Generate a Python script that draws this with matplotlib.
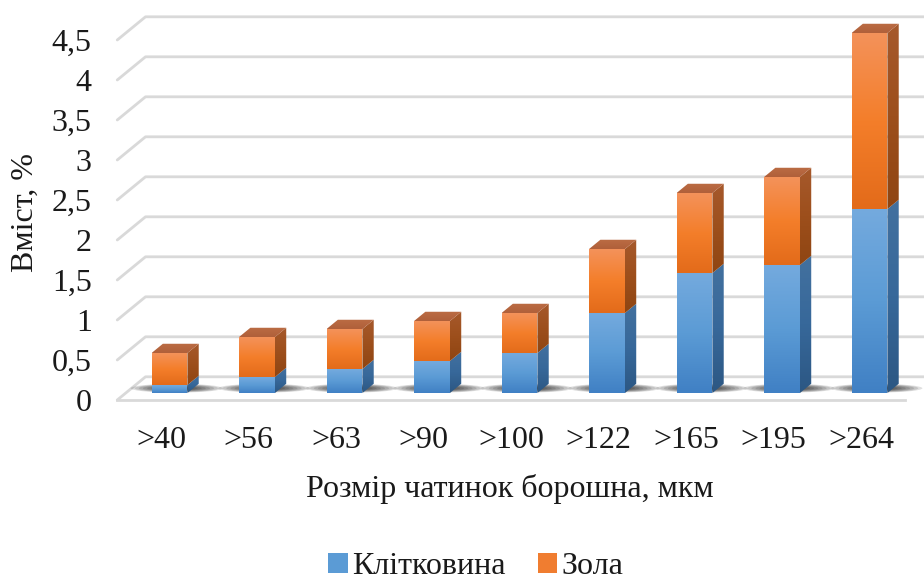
import numpy as np
import matplotlib
matplotlib.use("Agg")
import matplotlib.pyplot as plt
from matplotlib.patches import Polygon, Ellipse, Patch
from matplotlib.colors import LinearSegmentedColormap

# ---- data ----
categories = [">40", ">56", ">63", ">90", ">100", ">122", ">165", ">195", ">264"]
fiber = [0.1, 0.2, 0.3, 0.4, 0.5, 1.0, 1.5, 1.6, 2.3]
ash = [0.4, 0.5, 0.5, 0.5, 0.5, 0.8, 1.0, 1.1, 2.2]
series_names = ["Клітковина", "Зола"]
y_ticks = [0, 0.5, 1, 1.5, 2, 2.5, 3, 3.5, 4, 4.5]
y_tick_labels = ["0", "0,5", "1", "1,5", "2", "2,5", "3", "3,5", "4", "4,5"]
x_title = "Розмір чатинок борошна, мкм"
y_title = "Вміст, %"

plt.rcParams["font.family"] = ["Liberation Serif", "DejaVu Serif"]
FS = 23
TXT = "#1a1a1a"

# ---- figure / axes layout (pixel based) ----
W, H = 924, 580
fig = plt.figure(figsize=(W / 100, H / 100), dpi=100)
px_cat, px_val = 87.5, 80.0          # pixels per category / per unit
cat0_px, zero_px = 161.0, 400.0      # pixel position of category 0 / value 0 (front plane)
x_lo, x_hi = -0.6, 8.85
y_lo, y_hi = -0.1, 4.9
left_px = cat0_px + x_lo * px_cat
right_px = cat0_px + x_hi * px_cat
bottom_px = zero_px - y_lo * px_val
top_px = zero_px - y_hi * px_val
ax = fig.add_axes([left_px / W, 1 - bottom_px / H,
                   (right_px - left_px) / W, (bottom_px - top_px) / H])
ax.set_xlim(x_lo, x_hi)
ax.set_ylim(y_lo, y_hi)
for s in ax.spines.values():
    s.set_visible(False)

# oblique depth projection (full depth offset in data units)
DX, DY = 0.323, 0.29
d_front, d_back = 0.30, 0.70
bar_w = 0.41

grid_c = "#d9d9d9"
# walls: gridlines on the back wall with diagonals on the side wall
for v in y_ticks:
    ax.plot([-0.5, -0.5 + DX, 9.5], [v, v + DY, v + DY], color=grid_c, lw=2.0,
            zorder=1, solid_capstyle="round")
# front edge of the floor
ax.plot([-0.5, 8.5], [0, 0], color=grid_c, lw=2.0, zorder=1)


def shade(verts, stops, z):
    verts = np.asarray(verts, dtype=float)
    xmin, xmax = verts[:, 0].min(), verts[:, 0].max()
    ymin, ymax = verts[:, 1].min(), verts[:, 1].max()
    cmap = LinearSegmentedColormap.from_list("g", stops)
    grad = np.linspace(0, 1, 128).reshape(-1, 1)
    im = ax.imshow(grad, cmap=cmap, extent=(xmin, xmax, ymin, ymax), origin="lower",
                   aspect="auto", zorder=z, interpolation="bilinear")
    poly = Polygon(verts, closed=True, facecolor="none", edgecolor="none", zorder=z)
    ax.add_patch(poly)
    im.set_clip_path(poly)


# colour stops are listed bottom -> top
blue_front = ["#4080c4", "#5b9bd5", "#74aade"]
blue_side = ["#2c5783", "#37689a", "#43719f"]
orange_front = ["#e36b1a", "#f47e2a", "#f3925a"]
orange_side = ["#8f4512", "#9d4f1c", "#a6592c"]
orange_top = ["#b0603a", "#bb6c44"]

fx, fy = d_front * DX, d_front * DY
sx, sy = (d_back - d_front) * DX, (d_back - d_front) * DY

for i, (f, a) in enumerate(zip(fiber, ash)):
    xc = i + fx
    xl, xr = xc - bar_w / 2, xc + bar_w / 2
    base = fy
    # soft shadow on the floor
    for k in range(9):
        sc = 1 - k * 0.09
        ax.add_patch(Ellipse((xc + 0.08, base + 0.06), 1.05 * sc, 0.11 * sc,
                             facecolor="black", edgecolor="none", alpha=0.12, zorder=2))
    segs = [(0, f, blue_front, blue_side), (f, f + a, orange_front, orange_side)]
    for y0, y1, cf, cs in segs:
        b0, b1 = base + y0, base + y1
        shade([(xl, b0), (xr, b0), (xr, b1), (xl, b1)], cf, 4)
        shade([(xr, b0), (xr + sx, b0 + sy), (xr + sx, b1 + sy), (xr, b1)], cs, 4)
    tot = base + f + a
    shade([(xl, tot), (xr, tot), (xr + sx, tot + sy), (xl + sx, tot + sy)], orange_top, 4)

# ---- ticks and labels ----
ax.set_yticks(y_ticks, y_tick_labels)
ax.set_xticks(range(len(categories)), categories)
ax.tick_params(axis="y", length=0, pad=12, labelsize=FS, labelcolor=TXT)
ax.tick_params(axis="x", length=0, pad=13, labelsize=FS, labelcolor=TXT)
ax.set_ylabel(y_title, fontsize=FS, color=TXT)
ax.yaxis.set_label_coords((40 - left_px) / (right_px - left_px), (bottom_px - 212) / (bottom_px - top_px))
ax.set_xlabel(x_title, fontsize=FS, color=TXT)
ax.xaxis.set_label_coords((510 - left_px) / (right_px - left_px), (bottom_px - 474) / (bottom_px - top_px))

handles = [Patch(facecolor="#5b9bd5", edgecolor="none"),
           Patch(facecolor="#f07d30", edgecolor="none")]
fig.legend(handles, series_names, loc="center", bbox_to_anchor=(476 / W, 1 - 567 / H),
           ncol=2, frameon=False, fontsize=FS, handlelength=0.6, handleheight=0.6,
           handletextpad=0.15, columnspacing=1.0, labelcolor=TXT)

fig.savefig("out.png", dpi=100, facecolor="white")
